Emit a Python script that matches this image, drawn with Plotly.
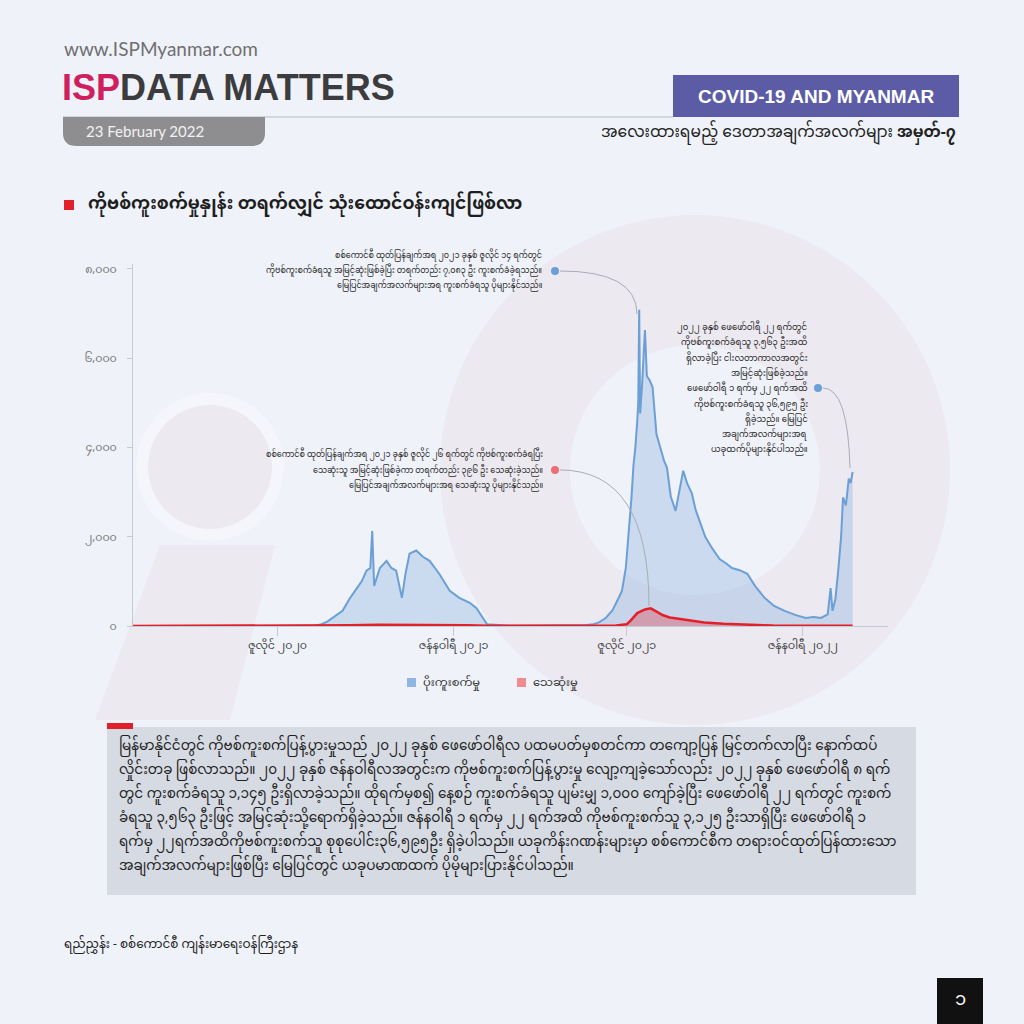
import plotly.graph_objects as go

# daily figures (MoH / military council releases)
case_dates = [
    '2020-02-01', '2020-03-23', '2020-04-15', '2020-05-15', '2020-06-15', '2020-07-15',
    '2020-08-10', '2020-08-16', '2020-08-22', '2020-09-07', '2020-09-14', '2020-09-22',
    '2020-09-27', '2020-10-02', '2020-10-06', '2020-10-08', '2020-10-10', '2020-10-16',
    '2020-10-23', '2020-10-28', '2020-11-02', '2020-11-08', '2020-11-12', '2020-11-16',
    '2020-11-23', '2020-11-30', '2020-12-07', '2020-12-17', '2020-12-28', '2021-01-07',
    '2021-01-18', '2021-01-25', '2021-02-02', '2021-02-05', '2021-03-01', '2021-04-01',
    '2021-05-01', '2021-05-20', '2021-05-27', '2021-06-02', '2021-06-09', '2021-06-16',
    '2021-06-23', '2021-06-26', '2021-06-30', '2021-07-03', '2021-07-06', '2021-07-08',
    '2021-07-10', '2021-07-12', '2021-07-13', '2021-07-14', '2021-07-15', '2021-07-17',
    '2021-07-19', '2021-07-20', '2021-07-22', '2021-07-25', '2021-07-28', '2021-08-01',
    '2021-08-05', '2021-08-09', '2021-08-12', '2021-08-16', '2021-08-21', '2021-08-25',
    '2021-08-29', '2021-09-02', '2021-09-07', '2021-09-11', '2021-09-15', '2021-09-21',
    '2021-09-28', '2021-10-06', '2021-10-13', '2021-10-19', '2021-10-27', '2021-11-04',
    '2021-11-12', '2021-11-22', '2021-12-02', '2021-12-13', '2021-12-24', '2022-01-04',
    '2022-01-12', '2022-01-20', '2022-01-27', '2022-01-30', '2022-02-01', '2022-02-04',
    '2022-02-07', '2022-02-10', '2022-02-12', '2022-02-15', '2022-02-18', '2022-02-20',
    '2022-02-22',
]
case_values = [
    0, 3, 10, 5, 5, 8,
    5, 40, 100, 340, 600, 850,
    1000, 1240, 1300, 2130, 900, 1300,
    1460, 1300, 1240, 630, 1200, 1620,
    1690, 1550, 1460, 1170, 790, 630,
    520, 400, 150, 40, 5, 10,
    15, 25, 40, 80, 180, 350,
    650, 790, 1300, 2070, 2900, 3600,
    4000, 4600, 5000, 7083, 4760, 5400,
    6200, 6630, 5600, 5500, 5350, 4300,
    4000, 3700, 3550, 2900, 2580, 3000,
    3480, 3200, 2970, 2600, 2360, 2000,
    1750, 1500, 1400, 1300, 1250, 1170,
    900, 630, 450, 340, 250, 180,
    200, 180, 260, 850, 340, 600,
    1240, 2000, 2880, 2700, 3300, 3200,
    3450,
]

death_dates = [
    '2020-02-01', '2020-08-20', '2020-09-15', '2020-10-15', '2020-11-15', '2020-12-15',
    '2021-01-15', '2021-02-05', '2021-06-20', '2021-07-01', '2021-07-05', '2021-07-12',
    '2021-07-20', '2021-07-26', '2021-08-01', '2021-08-08', '2021-08-15', '2021-08-24',
    '2021-09-07', '2021-09-20', '2021-10-10', '2021-11-01', '2021-12-01', '2022-01-01',
    '2022-02-22',
]
death_values = [
    0, 2, 15, 30, 30, 25,
    15, 3, 10, 40, 120, 290,
    370, 396, 330, 240, 190, 160,
    120, 80, 50, 30, 10, 5,
    5,
]

y_tickvals = [0, 2000, 4000, 6000, 8000]
y_ticktext = ['၀', '၂,၀၀၀', '၄,၀၀၀', '၆,၀၀၀', '၈,၀၀၀']
x_tickvals = ['2020-07-01', '2021-01-01', '2021-07-01', '2022-01-01']
x_ticktext = ['ဇူလိုင် ၂၀၂၀', 'ဇန်နဝါရီ ၂၀၂၁', 'ဇူလိုင် ၂၀၂၁', 'ဇန်နဝါရီ ၂၀၂၂']
series_names = ['ပိုးကူးစက်မှု', 'သေဆုံးမှု']

MY = 'Noto Sans Myanmar, Padauk, Myanmar Text, Noto Sans, sans-serif'
BG = '#eff2f9'


def px(x):
    return x / 1024


def py(y):
    return 1 - y / 1024


fig = go.Figure()

fig.add_trace(go.Scatter(
    x=case_dates, y=case_values, name=series_names[0], mode='lines',
    line=dict(color='#6b9fd6', width=2), fill='tozeroy',
    fillcolor='rgba(107,159,214,0.28)', showlegend=False,
))
fig.add_trace(go.Scatter(
    x=death_dates, y=death_values, name=series_names[1], mode='lines',
    line=dict(color='#e3202a', width=2.5), fill='tozeroy',
    fillcolor='rgba(227,32,42,0.3)', showlegend=False,
))

shapes = []
# faint "isp" watermark
shapes.append(dict(type='circle', xref='paper', yref='paper', layer='below',
                   x0=px(136), x1=px(284), y0=py(393), y1=py(541),
                   fillcolor='#f4f6fb', line_width=0))
shapes.append(dict(type='circle', xref='paper', yref='paper', layer='below',
                   x0=px(148), x1=px(272), y0=py(405), y1=py(529),
                   fillcolor='#ece9f0', line_width=0))
shapes.append(dict(type='path', xref='paper', yref='paper', layer='below',
                   path='M %f,%f L %f,%f L %f,%f L %f,%f Z' % (
                       px(160), py(545), px(275), py(545), px(230), py(720), px(95), py(720)),
                   fillcolor='#ede9f0', line_width=0))
shapes.append(dict(type='circle', xref='paper', yref='paper', layer='below',
                   x0=px(440), x1=px(950), y0=py(215), y1=py(725),
                   fillcolor='#ece9f0', line_width=0))
shapes.append(dict(type='circle', xref='paper', yref='paper', layer='below',
                   x0=px(570), x1=px(820), y0=py(345), y1=py(595),
                   fillcolor='#f0f2f9', line_width=0))

# header
shapes.append(dict(type='line', xref='paper', yref='paper',
                   x0=px(63), x1=px(673), y0=py(117), y1=py(117),
                   line=dict(color='#c9cdd6', width=1.5)))
shapes.append(dict(type='path', xref='paper', yref='paper',
                   path='M %f,%f L %f,%f L %f,%f Q %f,%f %f,%f L %f,%f Q %f,%f %f,%f Z' % (
                       px(63), py(117), px(265), py(117), px(265), py(133),
                       px(265), py(146), px(251), py(146), px(77), py(146),
                       px(63), py(146), px(63), py(133)),
                   fillcolor='#8e8e90', line_width=0))
shapes.append(dict(type='rect', xref='paper', yref='paper',
                   x0=px(673), x1=px(959), y0=py(75), y1=py(117),
                   fillcolor='#5b5ca5', line_width=0))
shapes.append(dict(type='rect', xref='paper', yref='paper',
                   x0=px(64), x1=px(74), y0=py(200), y1=py(210),
                   fillcolor='#e3202a', line_width=0))

# annotation dots and connectors
connectors = [
    ((560, 271), (637, 271), (637, 314), '#6b9fd6'),
    ((560, 470), (649, 470), (649, 606), '#ee6e76'),
    ((823, 388), (848, 388), (850, 468), '#6b9fd6'),
]
for (sx, sy), (cx, cy), (ex, ey), dot in connectors:
    shapes.append(dict(type='path', xref='paper', yref='paper',
                       path='M %f,%f Q %f,%f %f,%f' % (px(sx), py(sy), px(cx), py(cy), px(ex), py(ey)),
                       line=dict(color='#a9adb5', width=1)))
    shapes.append(dict(type='circle', xref='paper', yref='paper',
                       x0=px(sx - 9), x1=px(sx - 1), y0=py(sy - 4), y1=py(sy + 4),
                       fillcolor=dot, line_width=0))

# legend squares
shapes.append(dict(type='rect', xref='paper', yref='paper',
                   x0=px(407), x1=px(416), y0=py(678), y1=py(687),
                   fillcolor='#8fb5e4', line_width=0))
shapes.append(dict(type='rect', xref='paper', yref='paper',
                   x0=px(517), x1=px(526), y0=py(678), y1=py(687),
                   fillcolor='#f08b92', line_width=0))

# text box
shapes.append(dict(type='rect', xref='paper', yref='paper',
                   x0=px(107), x1=px(916), y0=py(727), y1=py(895),
                   fillcolor='#d6dae2', line_width=0))
shapes.append(dict(type='rect', xref='paper', yref='paper',
                   x0=px(107), x1=px(133), y0=py(723), y1=py(729),
                   fillcolor='#e3202a', line_width=0))
# page number box
shapes.append(dict(type='rect', xref='paper', yref='paper',
                   x0=px(937), x1=px(983), y0=py(978), y1=py(1024),
                   fillcolor='#111111', line_width=0))

ann = []


def txt(x, y, s, size, color='#2b2b2b', anchor='left', family=MY):
    ann.append(dict(xref='paper', yref='paper', x=px(x), y=py(y), text=s,
                    showarrow=False, xanchor=anchor, yanchor='middle',
                    font=dict(family=family, size=size, color=color)))


txt(62, 48, 'www.ISPMyanmar.com', 19, '#707070', family='Lato, Roboto, sans-serif')
txt(60, 87, "<b><span style='color:#cf1f5f'>ISP</span>DATA MATTERS</b>", 36, '#3c3c3e',
    family='Liberation Sans Narrow, Arial Narrow, Liberation Sans, sans-serif')
txt(145, 131, '23 February 2022', 15, '#f2f2f2', anchor='center', family='Lato, Roboto, sans-serif')
txt(816, 96, '<b>COVID-19 AND MYANMAR</b>', 19, '#ffffff', anchor='center',
    family='Liberation Sans Narrow, Arial Narrow, Liberation Sans, sans-serif')
txt(958, 133, 'အလေးထားရမည့် ဒေတာအချက်အလက်များ <b>အမှတ်-၇</b>', 15.5, '#222222', anchor='right')
txt(86, 205, '<b>ကိုဗစ်ကူးစက်မှုနှုန်း တရက်လျှင် သုံးထောင်ဝန်းကျင်ဖြစ်လာ</b>', 17.2, '#1e1e1e')

note1 = [
    'စစ်ကောင်စီ ထုတ်ပြန်ချက်အရ ၂၀၂၁ ခုနှစ် ဇူလိုင် ၁၄ ရက်တွင်',
    'ကိုဗစ်ကူးစက်ခံရသူ အမြင့်ဆုံးဖြစ်ခဲ့ပြီး တရက်တည်း ၇,၀၈၃ ဦး ကူးစက်ခံခဲ့ရသည်။',
    'မြေပြင်အချက်အလက်များအရ ကူးစက်ခံရသူ ပိုများနိုင်သည်။',
]
for i, s in enumerate(note1):
    txt(544, 256 + 15 * i, s, 8, anchor='right')

note2 = [
    'စစ်ကောင်စီ ထုတ်ပြန်ချက်အရ ၂၀၂၁ ခုနှစ် ဇူလိုင် ၂၆ ရက်တွင် ကိုဗစ်ကူးစက်ခံရပြီး',
    'သေဆုံးသူ အမြင့်ဆုံးဖြစ်ခဲ့ကာ တရက်တည်း ၃၉၆ ဦး သေဆုံးခဲ့သည်။',
    'မြေပြင်အချက်အလက်များအရ သေဆုံးသူ ပိုများနိုင်သည်။',
]
for i, s in enumerate(note2):
    txt(545, 455 + 15.5 * i, s, 8, anchor='right')

note3 = [
    '၂၀၂၂ ခုနှစ် ဖေဖော်ဝါရီ ၂၂ ရက်တွင်',
    'ကိုဗစ်ကူးစက်ခံရသူ ၃,၅၆၃ ဦးအထိ',
    'ရှိလာခဲ့ပြီး ငါးလတာကာလအတွင်း',
    'အမြင့်ဆုံးဖြစ်ခဲ့သည်။',
    'ဖေဖော်ဝါရီ ၁ ရက်မှ ၂၂ ရက်အထိ',
    'ကိုဗစ်ကူးစက်ခံရသူ ၃၆,၅၉၅ ဦး',
    'ရှိခဲ့သည်။ မြေပြင်',
    'အချက်အလက်များအရ',
    'ယခုထက်ပိုများနိုင်ပါသည်။',
]
for i, s in enumerate(note3):
    txt(810, 328 + 15.3 * i, s, 8.5, anchor='right')

txt(421, 683, series_names[0], 11.5, '#333333')
txt(531, 683, series_names[1], 11.5, '#333333')

body = [
    'မြန်မာနိုင်ငံတွင် ကိုဗစ်ကူးစက်ပြန့်ပွားမှုသည် ၂၀၂၂ ခုနှစ် ဖေဖော်ဝါရီလ ပထမပတ်မှစတင်ကာ တကျော့ပြန် မြင့်တက်လာပြီး နောက်ထပ်',
    'လှိုင်းတခု ဖြစ်လာသည်။ ၂၀၂၂ ခုနှစ် ဇန်နဝါရီလအတွင်းက ကိုဗစ်ကူးစက်ပြန့်ပွားမှု လျော့ကျခဲ့သော်လည်း ၂၀၂၂ ခုနှစ် ဖေဖော်ဝါရီ ၈ ရက်',
    'တွင် ကူးစက်ခံရသူ ၁,၁၄၅ ဦးရှိလာခဲ့သည်။ ထိုရက်မှစ၍ နေ့စဉ် ကူးစက်ခံရသူ ပျမ်းမျှ ၁,၀၀၀ ကျော်ခဲ့ပြီး ဖေဖော်ဝါရီ ၂၂ ရက်တွင် ကူးစက်',
    'ခံရသူ ၃,၅၆၃ ဦးဖြင့် အမြင့်ဆုံးသို့ရောက်ရှိခဲ့သည်။ ဇန်နဝါရီ ၁ ရက်မှ ၂၂ ရက်အထိ ကိုဗစ်ကူးစက်သူ ၃,၁၂၅ ဦးသာရှိပြီး ဖေဖော်ဝါရီ ၁',
    'ရက်မှ ၂၂ရက်အထိကိုဗစ်ကူးစက်သူ စုစုပေါင်း၃၆,၅၉၅ဦး ရှိခဲ့ပါသည်။ ယခုကိန်းဂဏန်းများမှာ စစ်ကောင်စီက တရားဝင်ထုတ်ပြန်ထားသော',
    'အချက်အလက်များဖြစ်ပြီး မြေပြင်တွင် ယခုပမာဏထက် ပိုမိုများပြားနိုင်ပါသည်။',
]
for i, s in enumerate(body):
    txt(117, 747 + 24 * i, s, 13.6, '#1f1f1f')

txt(62, 945, 'ရည်ညွှန်း - စစ်ကောင်စီ ကျန်းမာရေးဝန်ကြီးဌာန', 12, '#222222')
txt(960, 1000, '၁', 18, '#ffffff', anchor='center')

fig.update_layout(
    width=1024, height=1024,
    margin=dict(l=0, r=0, t=0, b=0, pad=0),
    paper_bgcolor=BG, plot_bgcolor='rgba(0,0,0,0)',
    shapes=shapes, annotations=ann,
    showlegend=False,
    xaxis=dict(
        domain=[px(133), px(888)], range=['2020-02-01', '2022-03-31'],
        type='date', tickvals=x_tickvals, ticktext=x_ticktext, automargin=False,
        showgrid=False, zeroline=False, showline=True, linecolor='#c5c9d1', linewidth=1,
        ticks='outside', ticklen=9, tickcolor='#c5c9d1',
        tickfont=dict(family=MY, size=11, color='#444444'),
    ),
    yaxis=dict(
        domain=[py(626), py(264)], range=[0, 8110], automargin=False,
        tickvals=y_tickvals, ticktext=y_ticktext,
        showgrid=False, zeroline=False, showline=True, linecolor='#c5c9d1', linewidth=1,
        ticks='outside', ticklen=5, tickcolor='#c5c9d1', ticklabelstandoff=8,
        tickfont=dict(family=MY, size=11, color='#777777'),
    ),
)

fig.write_html(
    'out.html',
    config={'displayModeBar': False},
    post_script="document.body.style.margin='0';"
                "document.body.style.overflow='hidden';"
                "document.documentElement.style.overflow='hidden';",
)
